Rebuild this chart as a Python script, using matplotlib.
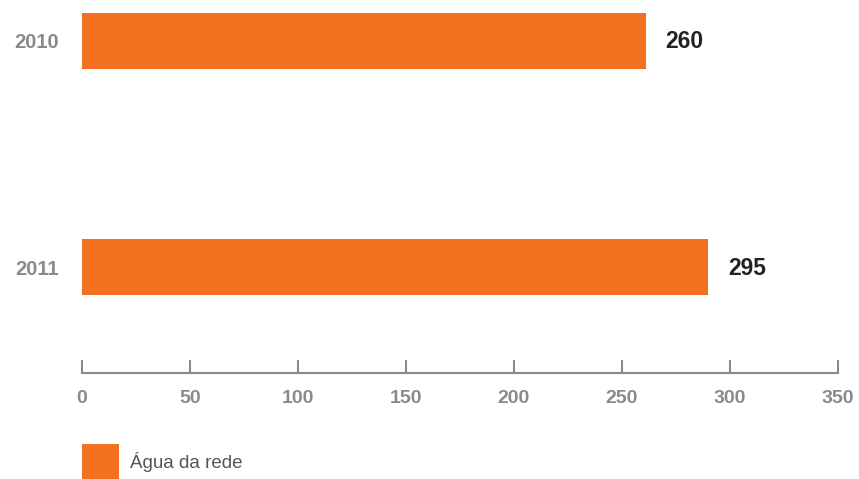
import matplotlib
matplotlib.use("Agg")
import matplotlib.pyplot as plt
from matplotlib.patches import Rectangle

years = ["2010", "2011"]
bar_values = [261, 290]
value_labels = ["260", "295"]
xticks = [0, 50, 100, 150, 200, 250, 300, 350]
legend_label = "Água da rede"

ORANGE = "#F37021"
GRAY = "#8A8A8E"

W, H = 859, 479
fig = plt.figure(figsize=(W / 100, H / 100), dpi=100)
ax = fig.add_axes([82 / W, (H - 373) / H, (838 - 82) / W, 373 / H])

ypos = list(range(len(years)))
ax.barh(ypos, bar_values, height=0.247, color=ORANGE, zorder=2)
for y, v, lab in zip(ypos, bar_values, value_labels):
    ax.text(v + 9, y + 0.006, lab, va="center", ha="left", fontsize=16.5,
            fontweight="bold", color="#222222", family="Liberation Sans")

ax.set_xlim(0, 350)
ax.set_ylim(1.468, -0.179)
ax.set_xticks(xticks)
ax.set_xticklabels([str(t) for t in xticks])
ax.set_yticks(ypos)
ax.set_yticklabels(years)

for s in ["top", "right", "left"]:
    ax.spines[s].set_visible(False)
ax.spines["bottom"].set_color(GRAY)
ax.spines["bottom"].set_linewidth(1.5)
ax.tick_params(axis="x", direction="in", length=9.5, width=1.5, color=GRAY,
               pad=12, labelcolor=GRAY, labelsize=14)
ax.tick_params(axis="y", length=0, pad=17, labelcolor=GRAY, labelsize=14.5)
for lab in ax.get_xticklabels() + ax.get_yticklabels():
    lab.set_fontweight("bold")
    lab.set_family("Liberation Sans")

fig.add_artist(Rectangle((82 / W, 0), 37 / W, 35 / H, transform=fig.transFigure,
                         facecolor=ORANGE, edgecolor="none"))
fig.text(130 / W, (H - 462) / H, legend_label, ha="left", va="center",
         fontsize=13.5, color="#555555", family="Liberation Sans")

fig.savefig("out.png", dpi=100)
